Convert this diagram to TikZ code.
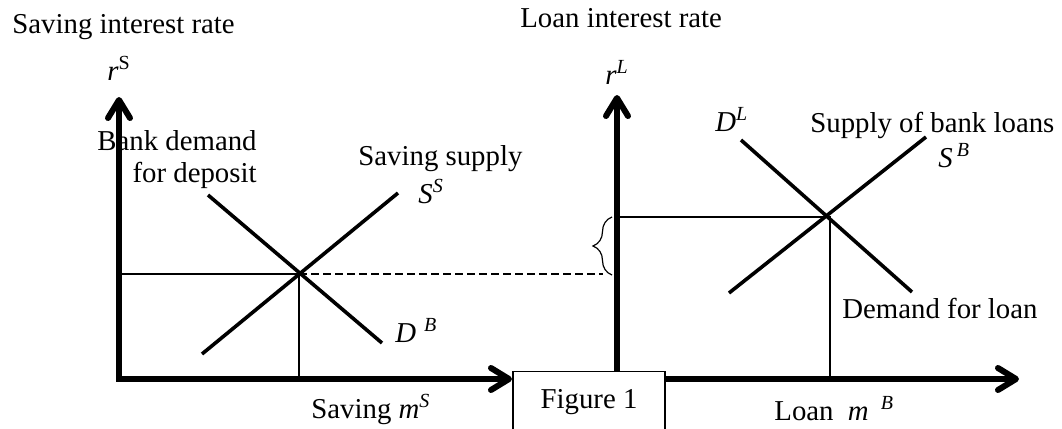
\documentclass[tikz,border=0pt]{standalone}
\usepackage{fontspec}
\setmainfont{Liberation Serif}
\usetikzlibrary{arrows.meta,decorations.pathreplacing}
\tikzset{
  axes/.style={line width=3pt, line join=miter, {Straight Barb[length=9pt,width=11pt,round]}-{Straight Barb[length=9pt,width=11pt,round]}},
  curve/.style={line width=1.8pt},
  guide/.style={line width=0.8pt},
  dashguide/.style={line width=0.7pt, dash pattern=on 4pt off 2pt},
  lbl/.style={inner sep=0pt, anchor=base west},
  figbox/.style={draw, line width=0.6pt, fill=white, minimum width=76pt, minimum height=30pt, inner sep=0pt, anchor=north},
  bracestyle/.style={line width=0.6pt, decorate, decoration={brace, amplitude=9.5pt}}
}
\newcommand{\mv}[1]{\mathit{#1}}

\begin{document}
\begin{tikzpicture}[x=0.5pt, y=-0.5pt, font=\fontsize{14.4}{16}\selectfont]
\useasboundingbox (0,0) rectangle (1062,429);
\clip (0,0) rectangle (1062,429);

% saving market
\coordinate (Sy) at (119,97);
\coordinate (So) at (119,379);
\coordinate (Sx) at (512,379);
\coordinate (Se) at (299,274);
\coordinate (Sd1) at (208,195);
\coordinate (Sd2) at (382,343);
\coordinate (Ss1) at (202,354);
\coordinate (Ss2) at (398,193);
\draw[guide] (So |- Se) -- (Se) -- (Se |- So);
\draw[curve] (Sd1) -- (Sd2);
\draw[curve] (Ss1) -- (Ss2);
\draw[axes] (Sy) -- (So) -- (Sx);

% loan market
\coordinate (Ly) at (617,95);
\coordinate (Lo) at (617,379);
\coordinate (Lx) at (1019,379);
\coordinate (Le) at (830,217);
\coordinate (Ld1) at (741,140);
\coordinate (Ld2) at (912,292);
\coordinate (Ls1) at (729,293);
\coordinate (Ls2) at (926,137);
\draw[guide] (Lo |- Le) -- (Le) -- (Le |- Lo);
\draw[curve] (Ld1) -- (Ld2);
\draw[curve] (Ls1) -- (Ls2);
\draw[axes] (Ly) -- (Lo) -- (Lx);

% spread between the two rates
\coordinate (Bb) at (612,275);
\coordinate (Bt) at (612,217);
\draw[dashguide] (Se) -- (603,274);
\draw[bracestyle] (Bb) -- (Bt);

\node[figbox] (fig) at (589,371) {Figure 1};

% labels
\node[lbl] (stitle) at (12,33) {Saving interest rate};
\node[lbl] (rS) at (107,80) {$\mv{r}^{\mathrm{S}}$};
\node[lbl, align=right, anchor=base east] (bankdem) at (257,182) {Bank demand\\for deposit};
\node[lbl] (savsup) at (358,165) {Saving supply};
\node[lbl] (SS) at (418,203) {$\mv{S}^{\mv{S}}$};
\node[lbl] (DB) at (395,342) {$\mv{D}^{\hspace{4pt}\mv{B}}$};
\node[lbl] (savx) at (311,418) {Saving $\mv{m}^{\mv{S}}$};
\node[lbl] (ltitle) at (520,27) {Loan interest rate};
\node[lbl] (rL) at (605,84) {$\mv{r}^{\mv{L}}$};
\node[lbl] (DL) at (715,131) {$\mv{D}^{\mv{L}}$};
\node[lbl] (supbank) at (810,132) {Supply of bank loans};
\node[lbl] (SB) at (938,167) {$\mv{S}^{\hspace{2pt}\mv{B}}$};
\node[lbl] (demloan) at (842,318) {Demand for loan};
\node[lbl] (loanx) at (774,420) {Loan\ \ $\mv{m}^{\hspace{6pt}\mv{B}}$};
\end{tikzpicture}
\end{document}
